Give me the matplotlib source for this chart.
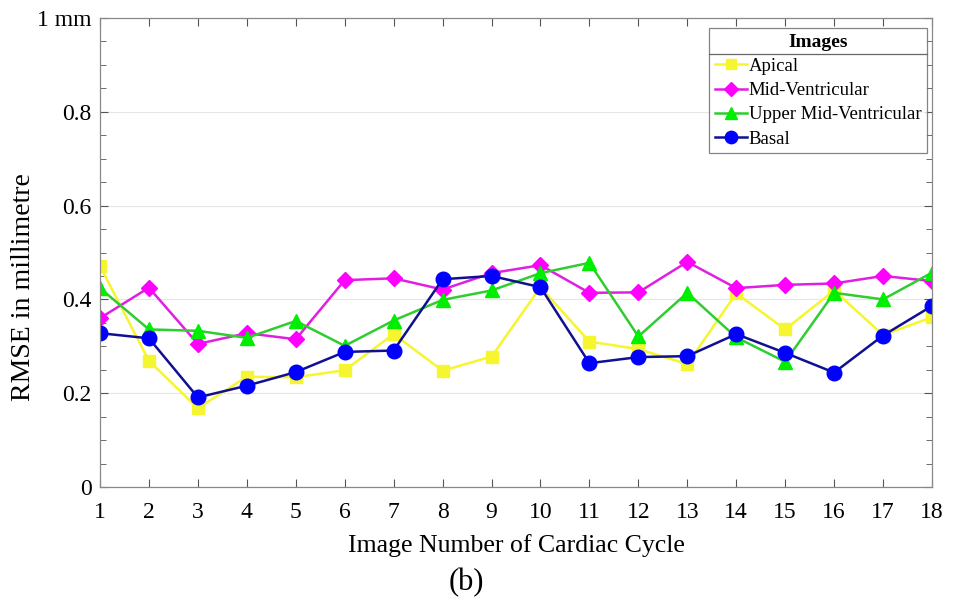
import matplotlib
matplotlib.use("Agg")
import matplotlib.pyplot as plt
from matplotlib.lines import Line2D
from matplotlib.ticker import MultipleLocator

plt.rcParams['font.family'] = ['Liberation Serif', 'DejaVu Serif']

cycle = list(range(1, 19))
apical = [0.471, 0.269, 0.168, 0.235, 0.234, 0.249, 0.326, 0.248, 0.278, 0.426,
          0.310, 0.294, 0.262, 0.413, 0.336, 0.419, 0.324, 0.362]
mid_ventricular = [0.360, 0.425, 0.305, 0.328, 0.315, 0.441, 0.445, 0.421, 0.456, 0.473,
                   0.414, 0.415, 0.480, 0.424, 0.431, 0.434, 0.450, 0.439]
upper_mid = [0.424, 0.336, 0.333, 0.318, 0.354, 0.301, 0.355, 0.399, 0.419, 0.456,
             0.478, 0.321, 0.414, 0.319, 0.267, 0.414, 0.400, 0.457]
basal = [0.328, 0.317, 0.191, 0.216, 0.245, 0.288, 0.291, 0.443, 0.450, 0.426,
         0.264, 0.277, 0.279, 0.326, 0.286, 0.244, 0.323, 0.386]

series_names = ["Apical", "Mid-Ventricular", "Upper Mid-Ventricular", "Basal"]
ytick_vals = [0, 0.2, 0.4, 0.6, 0.8, 1.0]
ytick_labels = ["0", "0.2", "0.4", "0.6", "0.8", "1 mm"]

fig = plt.figure(figsize=(9.56, 6.09), dpi=100)
ax = fig.add_axes([100/956, 1 - 487/609, 832/956, 469/609])

ax.plot(cycle, apical, color='#f5f530', marker='s', markersize=8, lw=1.8,
        label=series_names[0])
ax.plot(cycle, mid_ventricular, color='#e020e0', marker='D', markersize=8,
        markerfacecolor='#ff00ff', markeredgecolor='#ff00ff', lw=1.8, label=series_names[1])
ax.plot(cycle, upper_mid, color='#30cc30', marker='^', markersize=10,
        markerfacecolor='#00ee00', markeredgecolor='#00ee00', lw=1.8, label=series_names[2])
ax.plot(cycle, basal, color='#101090', marker='o', markersize=10.5,
        markerfacecolor='#0000ff', markeredgecolor='#0000ff', lw=1.8, label=series_names[3])

ax.set_xlim(1, 18)
ax.set_ylim(0, 1)
ax.set_xticks(cycle)
ax.set_yticks(ytick_vals)
ax.set_yticklabels(ytick_labels)
ax.yaxis.set_minor_locator(MultipleLocator(0.05))
ax.tick_params(which='both', direction='in', top=True, right=True,
               labelsize=17, color='#555555')
ax.tick_params(axis='x', pad=11)
ax.tick_params(axis='y', pad=6)
ax.tick_params(which='major', length=6)
ax.tick_params(which='minor', length=4)
ax.grid(axis='y', which='major', color='#e6e6e6', lw=0.8)
ax.set_axisbelow(True)
for s in ax.spines.values():
    s.set_color('#888888')
    s.set_linewidth(0.9)

ax.set_xlabel("Image Number of Cardiac Cycle", fontsize=18.5, labelpad=8)
fig.text(24/956, 1 - 287/609, "RMSE in millimetre", fontsize=20, rotation=90,
         ha='center', va='center')

leg = ax.legend(loc='upper right', title="Images", fontsize=13.5,
                title_fontproperties={'weight': 'bold', 'size': 14},
                frameon=True, fancybox=False, edgecolor='#666666',
                bbox_to_anchor=(927/956, 1 - 28/609), bbox_transform=fig.transFigure,
                borderaxespad=0.0, handlelength=1.7, handletextpad=0.1,
                labelspacing=0.38, borderpad=0.3, markerscale=0.85)
leg.get_frame().set_linewidth(0.9)

fig.text(466/956, 1 - 583/609, "(b)", fontsize=22, ha='center', va='center')

fig.canvas.draw()
r = fig.canvas.get_renderer()
lb = leg.get_window_extent(r)
tb = leg.get_title().get_window_extent(r)
ysep = (tb.y0 - 3) / fig.bbox.height
fig.add_artist(Line2D([lb.x0 / fig.bbox.width, lb.x1 / fig.bbox.width], [ysep, ysep],
                      color='#666666', lw=0.9, transform=fig.transFigure))

fig.savefig("out.png", dpi=100)
